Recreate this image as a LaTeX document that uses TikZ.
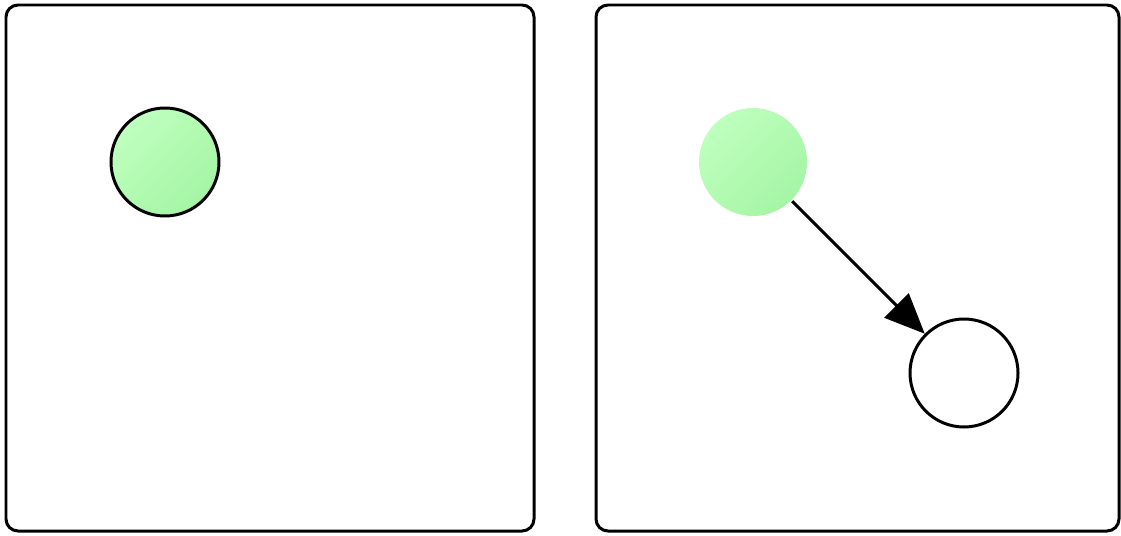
\documentclass[tikz,border=0pt]{standalone}
\usetikzlibrary{arrows.meta}
\definecolor{lightgreen}{RGB}{190,255,190}
\definecolor{midgreen}{RGB}{165,245,165}
\begin{document}
\begin{tikzpicture}[x=0.02cm,y=0.02cm,line width=1.7pt,
  panel/.style={draw,rounded corners=12*0.02cm},
  greennode/.style={circle,minimum size=108*0.02cm,inner sep=0pt,
    shading=axis,top color=lightgreen,bottom color=midgreen,shading angle=45},
  whitenode/.style={draw,circle,fill=white,minimum size=108*0.02cm,inner sep=0pt},
  link/.style={-{Triangle[length=40*0.02cm,width=34*0.02cm]}}]
\useasboundingbox (0,0) rectangle (1121,535);
\draw[panel] (6,4) rectangle (534,530);
\draw[panel] (596,4) rectangle (1119,530);
\node[greennode,draw] (a) at (165,373) {};
\node[greennode] (b) at (753,373) {};
\node[whitenode] (c) at (964,162) {};
\draw[link] (b) -- (c);
\end{tikzpicture}
\end{document}
